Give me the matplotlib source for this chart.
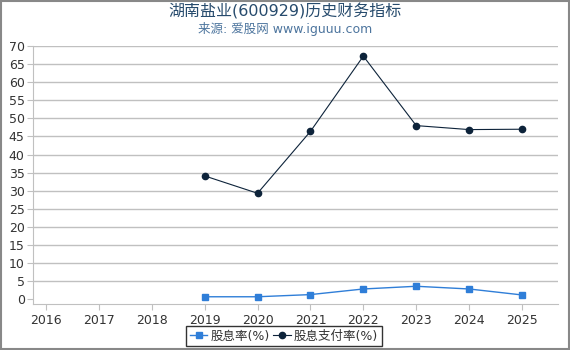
import matplotlib
matplotlib.use("Agg")
import matplotlib.pyplot as plt

plt.rcParams['font.family'] = ['DejaVu Sans', 'Noto Sans CJK SC']

years = [2016, 2017, 2018, 2019, 2020, 2021, 2022, 2023, 2024, 2025]
yield_years = [2019, 2020, 2021, 2022, 2023, 2024, 2025]
dividend_yield = [0.7, 0.7, 1.3, 2.85, 3.6, 2.85, 1.2]
payout_ratio = [34.1, 29.3, 46.4, 67.2, 48.0, 46.9, 47.0]

fig = plt.figure(figsize=(5.7, 3.5), dpi=100)
ax = fig.add_axes([33 / 570, 46 / 350, 525 / 570, 258 / 350])

ax.plot(yield_years, dividend_yield, color='#2f7ed8', lw=1, marker='s', ms=5,
        label='股息率(%)', zorder=3)
ax.plot(yield_years, payout_ratio, color='#0d233a', lw=0.8, marker='o', ms=4.5,
        label='股息支付率(%)', zorder=3)

ax.set_xlim(2015.755, 2025.68)
ax.set_ylim(-1.3, 70)
ax.set_xticks(years)
ax.set_yticks(range(0, 71, 5))
for y in range(5, 71, 5):
    ax.axhline(y, color='#c0c0c0', lw=1, zorder=1)

for s in ['top', 'right']:
    ax.spines[s].set_visible(False)
ax.spines['left'].set_color('#c0c0c0')
ax.spines['bottom'].set_color('#c0c0c0')
ax.tick_params(axis='both', colors='#c0c0c0', labelcolor='#333333', labelsize=9, length=4)
ax.tick_params(axis='y', pad=2)

fig.text(0.5, 0.968, '湖南盐业(600929)历史财务指标', ha='center', va='center',
         fontsize=11.5, color='#274b6d')
fig.text(0.5, 0.918, '来源: 爱股网 www.iguuu.com', ha='center', va='center',
         fontsize=9, color='#4d759e')

leg = fig.legend(loc='center', bbox_to_anchor=(284 / 570, 1 - 336 / 350), ncol=2,
                 frameon=True, fontsize=9, handlelength=1.4, handletextpad=0.25,
                 columnspacing=0.3, borderpad=0.3, fancybox=False)
leg.get_frame().set_edgecolor('black')
leg.get_frame().set_linewidth(1)
for t in leg.get_texts():
    t.set_color('#333333')

fig.patches.append(plt.Rectangle((0.001, 0.002), 0.997, 0.995, transform=fig.transFigure,
                                 fill=False, edgecolor='#888888', lw=1.5))

fig.savefig('out.png', dpi=100)
